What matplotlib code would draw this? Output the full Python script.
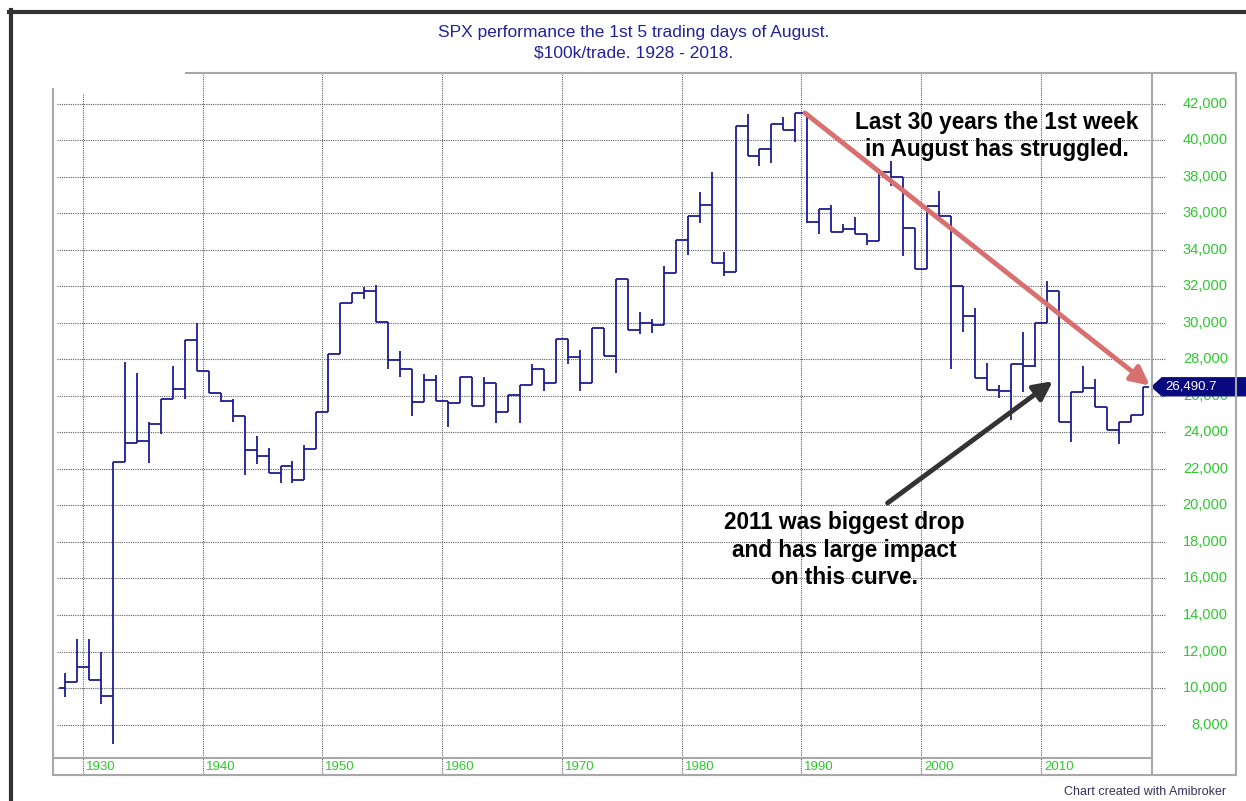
import numpy as np
import matplotlib.pyplot as plt
from matplotlib.patches import Polygon
from matplotlib.lines import Line2D

plt.rcParams['font.family'] = ['Liberation Sans', 'DejaVu Sans']

W, H = 1246, 801

# equity curve, one OHLC bar per year (open = previous close)
years = np.arange(1928, 2019)
start_value = 10000
close = [10355, 11176, 10447, 9571, 22394, 23397, 23543, 24437, 25841, 26352,
         29052, 27373, 26170, 25732, 24875, 23030, 22710, 21780, 22130, 21375,
         23080, 25130, 28294, 31096, 31602, 31729, 30065, 27968, 27444, 25636,
         26847, 25740, 25610, 27017, 25463, 26688, 25098, 26067, 26597, 27474,
         26688, 29083, 28114, 26688, 29722, 28150, 32410, 29582, 30000, 29855,
         32713, 34534, 35863, 36446, 33278, 32768, 40780, 39105, 39505, 40871,
         40543, 41472, 35539, 36231, 34957, 35139, 34829, 34465, 38269, 37996,
         35193, 32955, 36376, 35867, 32025, 30346, 26970, 26313, 26276, 27736,
         27608, 29981, 31751, 24579, 26185, 26422, 25364, 24141, 24542, 24944,
         26490.7]
high = [10811, 12672, 12672, 11997, 22394, 27829, 27228, 24583, 25841, 27647,
        29052, 29964, 27373, 26170, 25841, 24875, 23820, 23160, 22140, 22420,
        23286, 25130, 28294, 31096, 31602, 31946, 32054, 30065, 28438, 27444,
        27209, 27130, 25740, 27017, 27017, 27017, 26688, 26067, 26597, 27748,
        27474, 29083, 29083, 28516, 29722, 29722, 32410, 32410, 30582, 30219,
        33130, 34534, 35863, 37138, 38267, 33897, 40780, 41417, 39505, 40871,
        41235, 41472, 41472, 36231, 36451, 35412, 35776, 34829, 38269, 38870,
        37996, 35193, 36376, 37232, 35867, 32025, 30783, 27791, 26587, 27736,
        29470, 29981, 32262, 31751, 26185, 27645, 26915, 25364, 24542, 24944,
        26490.7]
low = [9535, 10355, 10447, 9115, 6945, 22394, 23397, 22303, 23890, 25841,
       25823, 27373, 26170, 25680, 24546, 21664, 22270, 21780, 21232, 21232,
       21375, 23080, 25130, 28294, 31096, 31277, 30065, 27480, 27028, 24895,
       25636, 25740, 24312, 25610, 25463, 25463, 24494, 25098, 24494, 26597,
       26286, 26688, 27748, 26286, 26688, 28150, 27236, 29582, 29400, 29437,
       29855, 32713, 33733, 35462, 33278, 32531, 32768, 39105, 38595, 38722,
       40543, 39869, 35444, 34829, 34957, 34957, 34829, 34265, 34465, 37505,
       33628, 32955, 32955, 35867, 27440, 29470, 26970, 26313, 25856, 24670,
       26221, 27553, 29981, 24543, 23447, 26185, 25364, 24141, 23356, 24542,
       24944]
opens = [start_value] + close[:-1]

y_ticks = list(range(8000, 42001, 2000))
decades = [1930, 1940, 1950, 1960, 1970, 1980, 1990, 2000, 2010]

navy = '#1c1c94'
green = '#2fc82f'
grid_c = '#606060'
frame_c = '#a8a8a8'


def fx(x):
    return x / W


def fy(y):
    return 1 - y / H


fig = plt.figure(figsize=(W / 100, H / 100), dpi=100)
L, R, T, B = 53, 1152, 73, 758
ax = fig.add_axes([fx(L), fy(B), (R - L) / W, (B - T) / H])
ax.set_xlim(1927.0, 2018.78)
ax.set_ylim(6170, 43670)
for s in ax.spines.values():
    s.set_visible(False)
ax.set_xticks([])
ax.set_yticks([])

# grid (dotted), extending a bit into the axis strips
ax.hlines(y_ticks, 0.004, 1.012, transform=ax.get_yaxis_transform(),
          colors=grid_c, lw=0.8, linestyles=(0, (1, 1)), clip_on=False)
for d in decades:
    top = 0.969 if d == 1930 else 1.0
    ax.vlines(d - 0.5, -0.022, top, transform=ax.get_xaxis_transform(),
              colors=grid_c, lw=0.8, linestyles=(0, (1, 1)), clip_on=False)
    ax.text(d - 0.25, -0.013, str(d), transform=ax.get_xaxis_transform(),
            ha='left', va='center', color=green, fontsize=9.5)

for v in y_ticks:
    ax.text(1.069, v, f'{v:,}', transform=ax.get_yaxis_transform(),
            ha='right', va='center', color=green, fontsize=10.5)

# OHLC bars
yrs = np.array(years, dtype=float)
ax.vlines(yrs, low, high, color=navy, lw=1.3)
ax.hlines(opens, yrs - 0.5, yrs, color=navy, lw=1.3)
ax.hlines(close, yrs, yrs + 0.5, color=navy, lw=1.3)

# frames
lines = [
    ((186, 73), (1236, 73), frame_c, 1.5),
    ((53, 89), (53, 775), frame_c, 1.5),
    ((53, 758), (1152, 758), frame_c, 1.5),
    ((53, 775), (1236, 775), frame_c, 1.5),
    ((1152, 73), (1152, 775), frame_c, 1.5),
    ((1236, 73), (1236, 775), frame_c, 1.5),
    ((9, 11.5), (1246, 11.5), '#333333', 3),
    ((10.5, 10), (10.5, 801), '#333333', 3),
]
for (x0, y0), (x1, y1), c, lw in lines:
    fig.add_artist(Line2D([fx(x0), fx(x1)], [fy(y0), fy(y1)],
                          transform=fig.transFigure, color=c, lw=lw))

# titles
fig.text(fx(634), fy(32), 'SPX performance the 1st 5 trading days of August.',
         ha='center', va='center', color='#22229a', fontsize=12.5)
fig.text(fx(634), fy(53), '$100k/trade. 1928 - 2018.',
         ha='center', va='center', color='#22229a', fontsize=12.5)
fig.text(fx(1226), fy(792), 'Chart created with Amibroker',
         ha='right', va='center', color='#33335a', fontsize=9)

# annotations
ax.annotate('', xy=(2018.6, 26560), xytext=(1989.8, 41480),
            arrowprops=dict(arrowstyle='-|>', color='#d7706f', lw=3.5,
                            mutation_scale=28, shrinkA=0, shrinkB=0), alpha=0.9)
ax.annotate('', xy=(2010.5, 26800), xytext=(1996.7, 20130),
            arrowprops=dict(arrowstyle='-|>', color='#333333', lw=3.5,
                            mutation_scale=28, shrinkA=0, shrinkB=0))
fig.text(fx(997), fy(136), 'Last 30 years the 1st week\nin August has struggled.',
         ha='center', va='center', fontsize=16.3, fontweight='bold',
         linespacing=1.25, color='black')
fig.text(fx(844), fy(550), '2011 was biggest drop\nand has large impact\non this curve.',
         ha='center', va='center', fontsize=16.3, fontweight='bold',
         linespacing=1.25, color='black')

# last value tag
yc = ax.transData.transform((2018, close[-1]))[1]
yc = H - yc
tag = Polygon([(fx(1152), fy(yc)), (fx(1162), fy(yc - 9)), (fx(1246), fy(yc - 9)),
               (fx(1246), fy(yc + 9)), (fx(1162), fy(yc + 9))],
              closed=True, transform=fig.transFigure, color='#0a0a80')
fig.add_artist(tag)
fig.text(fx(1165), fy(yc), f'{close[-1]:,.1f}', ha='left', va='center',
         color='white', fontsize=9.5)

fig.savefig('out.png', dpi=100, facecolor='white')
